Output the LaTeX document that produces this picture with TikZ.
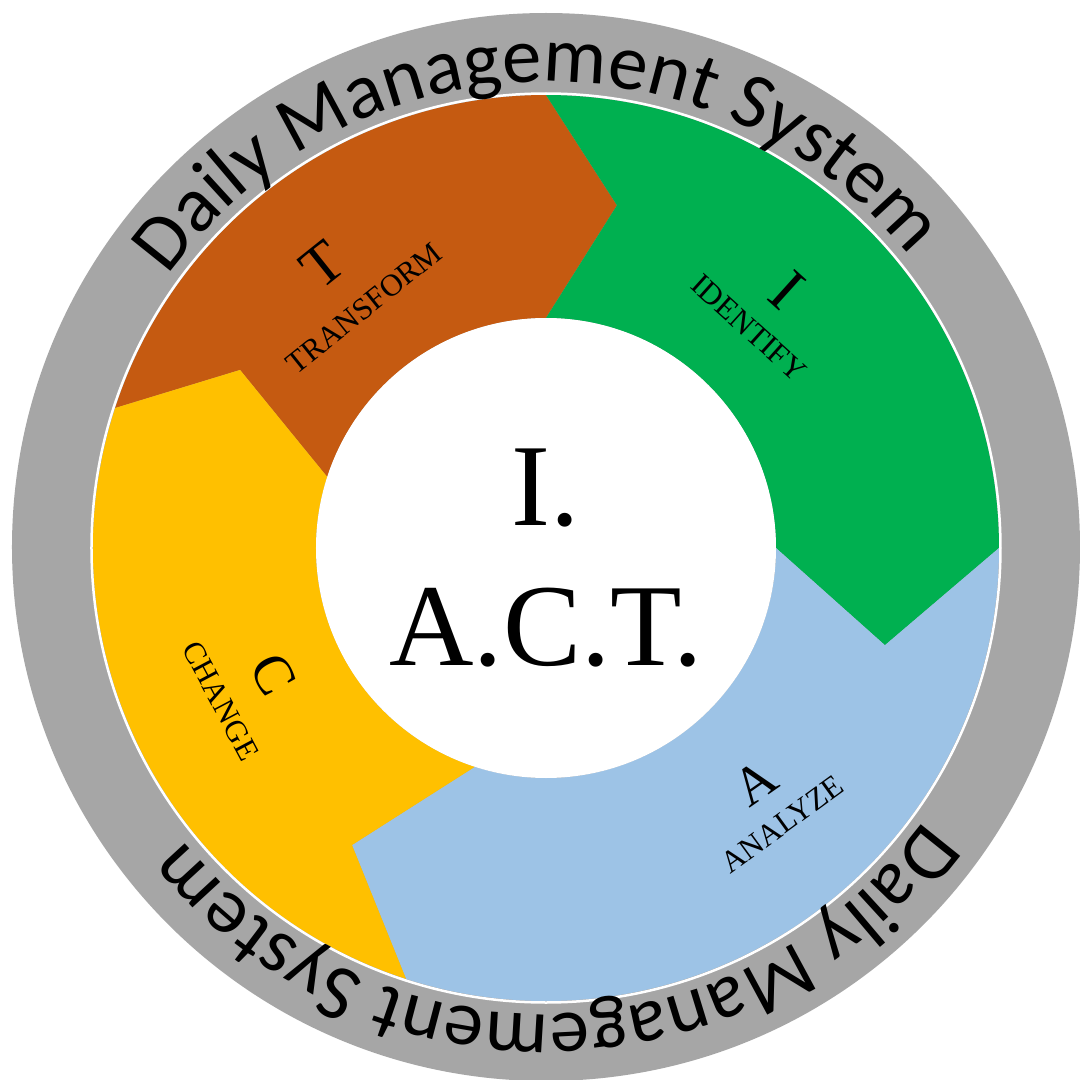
\documentclass[tikz,border=0pt]{standalone}
\usepackage{fontspec}
\setmainfont{Liberation Serif}
\newfontfamily\dmsfont{Carlito}
\usetikzlibrary{decorations.text}
\definecolor{ringgray}{HTML}{A6A6A6}
\definecolor{tbrown}{HTML}{C55A11}
\definecolor{igreen}{HTML}{00B050}
\definecolor{ablue}{HTML}{9DC3E6}
\definecolor{cyellow}{HTML}{FFC000}
\newcommand\Ro{453}
\newcommand\Ri{230}
% #1 colour, #2 tail angle, #3 head angle, #4/#5 tip angle/radius, #6/#7 notch angle/radius
\newcommand\arrowseg[7]{%
  \fill[#1] (#2:\Ro) arc[start angle=#2, end angle=#3, radius=\Ro]
    -- (#4:#5) -- (#3:\Ri) arc[start angle=#3, end angle=#2, radius=\Ri]
    -- (#6:#7) -- cycle;}
\tikzset{
  bigletter/.style={font=\fontsize{#1}{#1}\selectfont, inner sep=0pt},
  wordlabel/.style={font=\fontsize{31}{31}\selectfont, inner sep=0pt},
  centertext/.style={font=\fontsize{117}{117}\selectfont, inner sep=0pt, anchor=base},
  ringtext/.style={decorate, decoration={text along path, text align=center,
     text={|\dmsfont\fontsize{79}{82}\selectfont|Daily Management System}}}
}
\begin{document}
\begin{tikzpicture}[x=1pt,y=1pt]
\useasboundingbox (-546,-532) rectangle (534,548);
\fill[white] (-546,-532) rectangle (534,548);
\begin{scope}
\clip (-546,-532) rectangle (534,548);
\fill[ringgray] (0,1) circle[radius=534];
\end{scope}
% segments
\arrowseg{tbrown}{162}{90}{78.3}{350}{149.8}{354}
\arrowseg{igreen}{90}{0}{-16}{352.6}{78.3}{350}
\arrowseg{ablue}{0}{-108}{-123.15}{354.8}{-16}{352.6}
\arrowseg{cyellow}{252}{162}{149.8}{354}{236.85}{354.8}
\fill[white] (0,0) circle[radius=\Ri];
\draw[white, line width=2.5pt] (0,0) circle[radius=454.5];
% ring texts
\path[ringtext] (151.5:466) arc[start angle=151.5, end angle=31.5, radius=466];
\path[ringtext] (331.5:466) arc[start angle=331.5, end angle=211.5, radius=466];
% segment labels
\node[bigletter=60, rotate=38.6] (tl) at (-223.5,283) {T};
\node[wordlabel, rotate=38.6] (tw) at (-182,240) {TRANSFORM};
\node[bigletter=63, rotate=-42] (il) at (241,258) {I};
\node[wordlabel, rotate=-42] (iw) at (203,220) {IDENTIFY};
\node[bigletter=54, rotate=35] (al) at (209,-234.5) {A};
\node[wordlabel, rotate=36] (aw) at (236,-276) {ANALYZE};
\node[bigletter=56, rotate=-62] (cl) at (-272.5,-126) {C};
\node[wordlabel, rotate=-62] (cw) at (-325,-153) {CHANGE};
% centre
\node[centertext] (ctop) at (-0.5,23) {I.};
\node[centertext] (cbot) at (0,-117) {A.C.T.};
\end{tikzpicture}
\end{document}
